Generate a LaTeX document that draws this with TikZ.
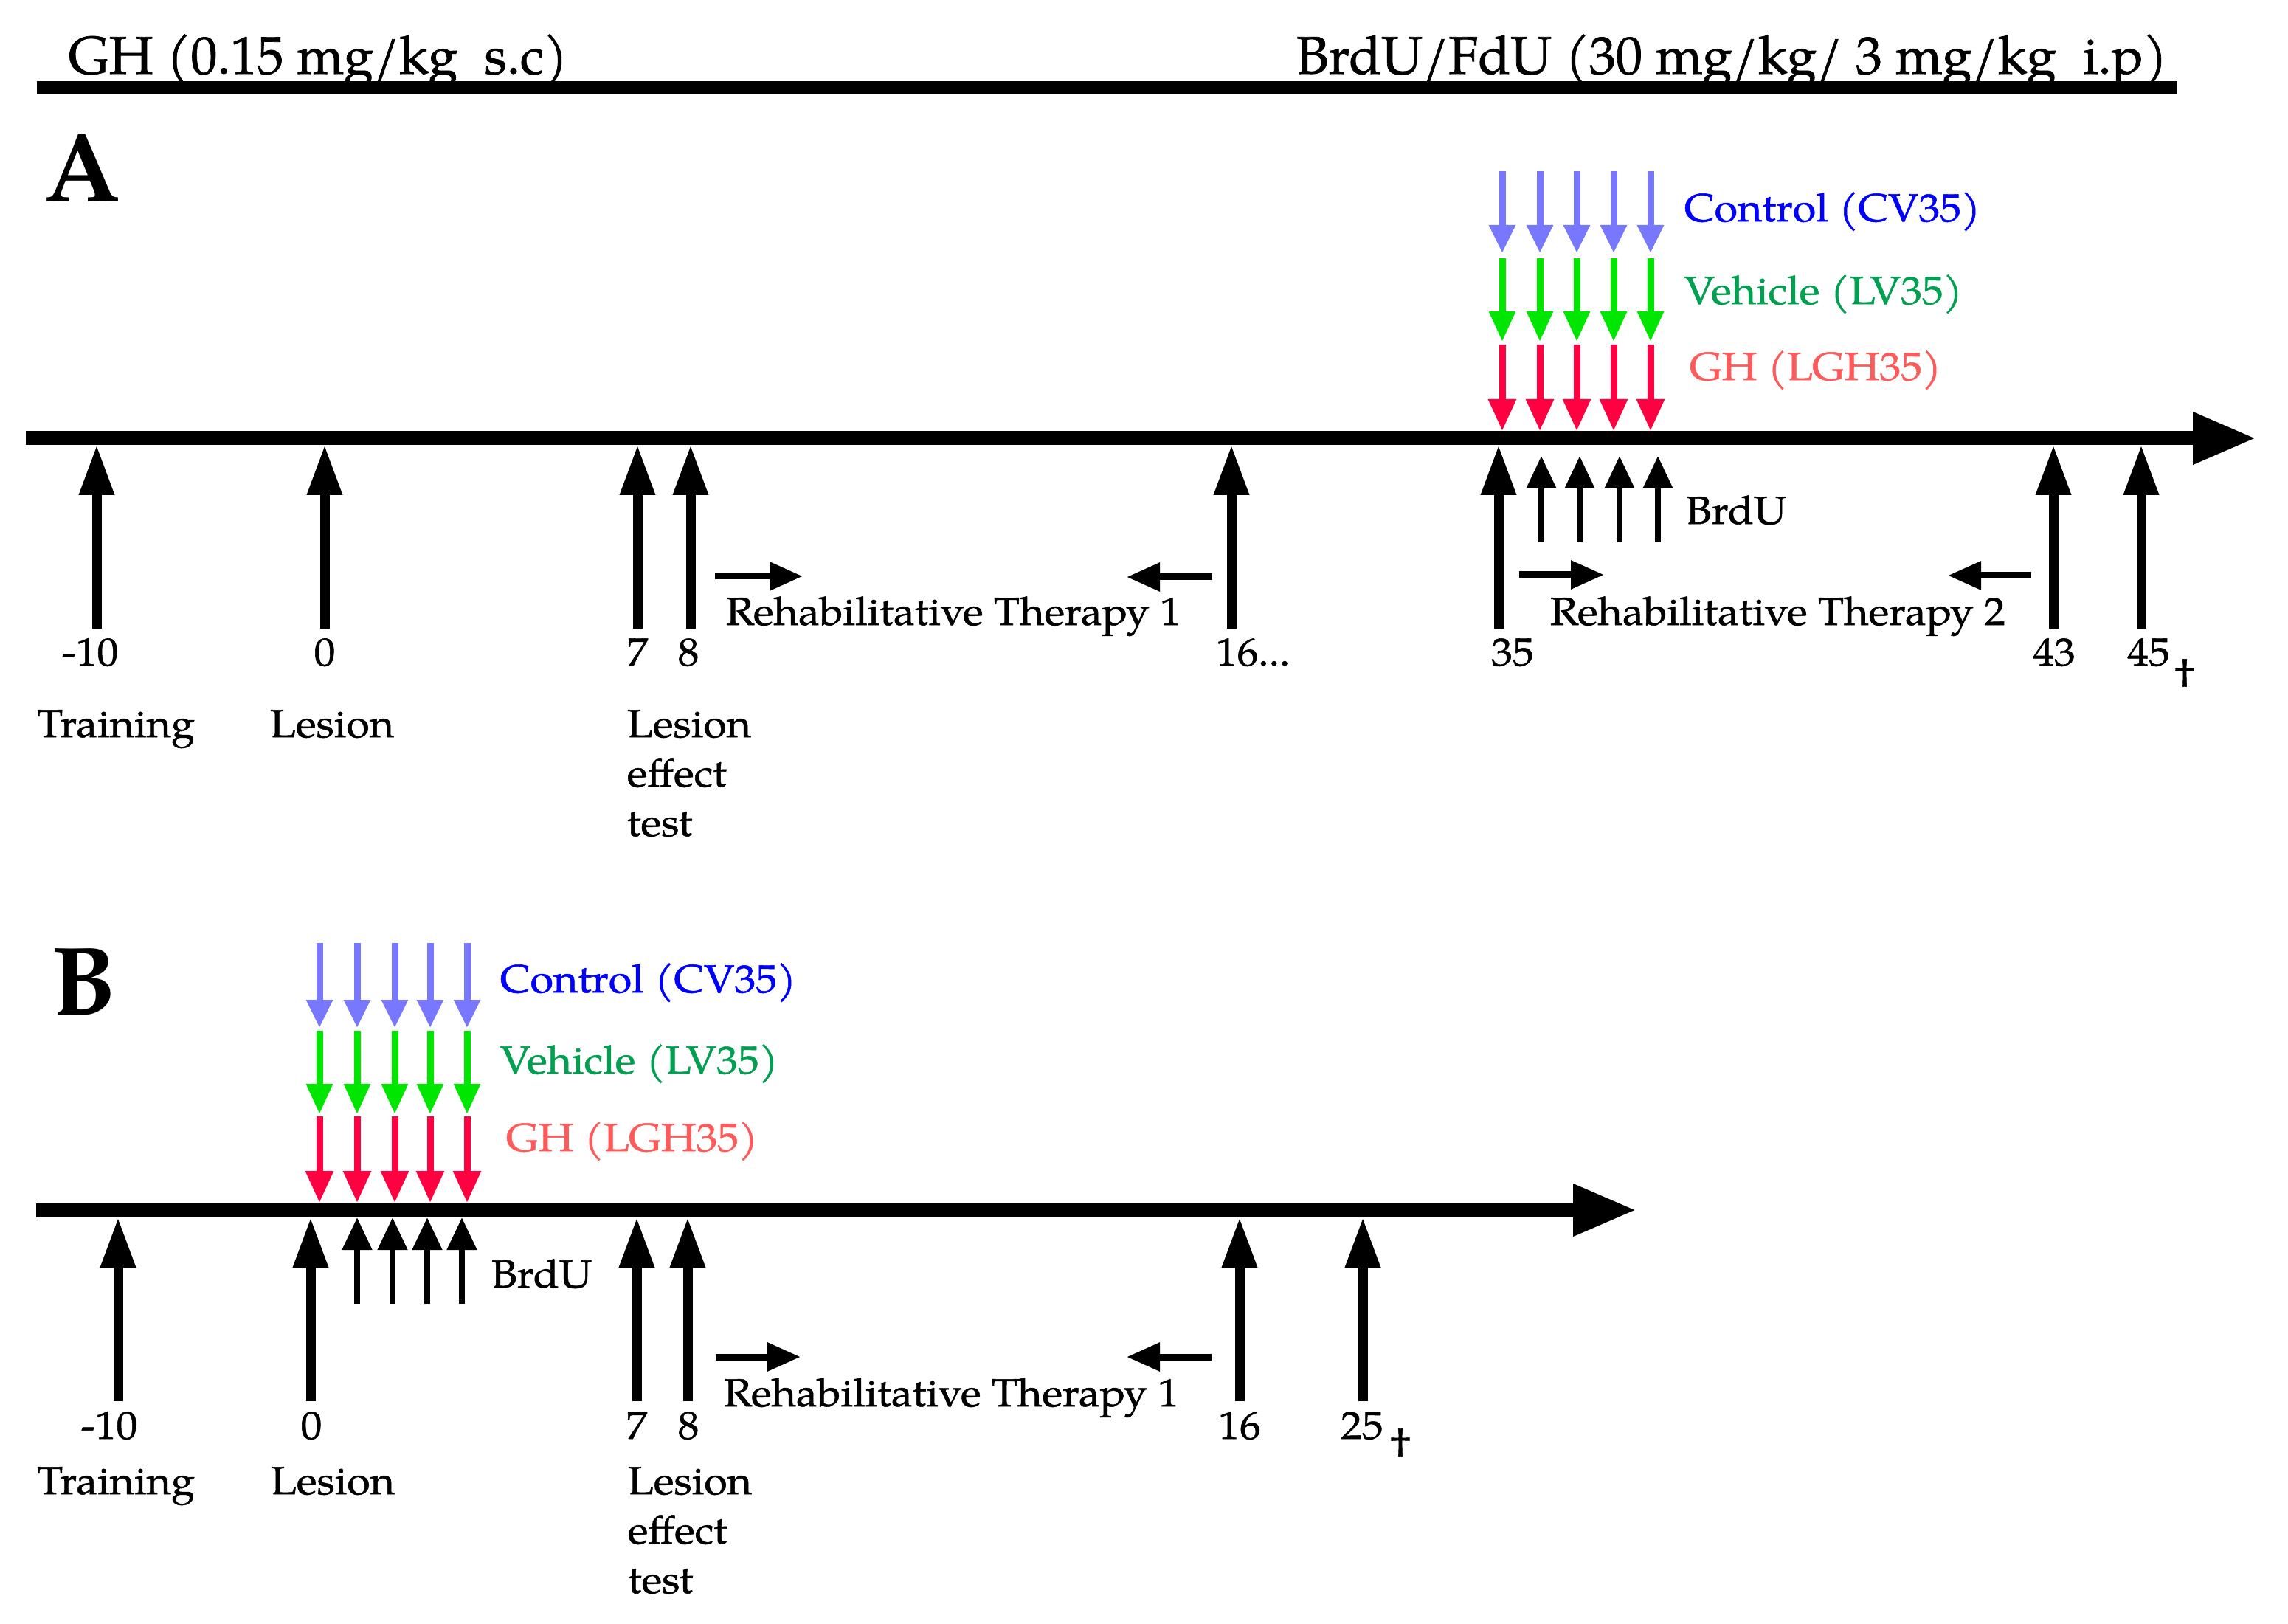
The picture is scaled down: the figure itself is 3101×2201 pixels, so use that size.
\documentclass[tikz,border=0pt]{standalone}
\usepackage{fontspec}
\setmainfont{texgyrepagella}[Extension=.otf, UprightFont=*-regular, BoldFont=*-bold, ItalicFont=*-italic, BoldItalicFont=*-bolditalic, FakeStretch=1.08, FakeBold=1]
\newfontfamily\topfont{texgyrepagella}[Extension=.otf, UprightFont=*-regular, BoldFont=*-bold, ItalicFont=*-italic, BoldItalicFont=*-bolditalic, FakeBold=1]
\newfontfamily\panelfont{texgyrepagella}[Extension=.otf, UprightFont=*-bold]
\usetikzlibrary{arrows.meta}
\definecolor{dblue}{RGB}{120,120,255}
\definecolor{tblue}{RGB}{0,0,255}
\definecolor{dgreen}{RGB}{0,230,0}
\definecolor{tgreen}{RGB}{0,160,80}
\definecolor{dred}{RGB}{255,0,64}
\definecolor{tred}{RGB}{255,90,90}
\tikzset{
  rulebar/.style={line width=4.5pt},
  timeline/.style={line width=4.75pt,-{Triangle[length=21.5pt,width=16.5pt]}},
  bigup/.style={line width=3.25pt,-{Triangle[length=17pt,width=11.25pt]}},
  smallup/.style={line width=2pt,-{Triangle[length=11pt,width=9.75pt]}},
  sidearrow/.style={line width=2.25pt,-{Triangle[length=11.25pt,width=9.25pt]}},
  doseblue/.style={dblue,line width=2.25pt,-{Triangle[length=9.5pt,width=8.5pt]}},
  dosegreen/.style={dgreen,line width=2.25pt,-{Triangle[length=10.25pt,width=8.5pt]}},
  dosered/.style={dred,line width=2.25pt,-{Triangle[length=10.75pt,width=9pt]}},
  lbl/.style={inner sep=0pt,font=\fontsize{13.3}{16.75}\selectfont},
  toptxt/.style={inner sep=0pt,font=\topfont\fontsize{18}{22}\selectfont,anchor=base west},
  panel/.style={inner sep=0pt,font=\panelfont\fontsize{33}{40}\selectfont,anchor=base west},
}
\begin{document}
\begin{tikzpicture}[x=0.25pt,y=-0.25pt]
\useasboundingbox[fill=white] (0,0) rectangle (3101,2201);

% ---- header ----
\node[toptxt] (hGH) at (92,100) {GH (0.15 mg/kg\ \ s.c)};
\node[toptxt] (hBrdU) at (1756,100) {BrdU/FdU (30 mg/kg/ 3 mg/kg\ \ i.p)};
\coordinate (ruleL) at (50,119);
\coordinate (ruleR) at (2951,119);
\draw[rulebar] (ruleL) -- (ruleR);

% ================= PANEL A =================
\node[panel] (pA) at (60,273) {A};
\coordinate (Astart) at (35,594);
\coordinate (Aend) at (3058,594);
\draw[timeline] (Astart) -- (Aend);

% big up arrows
\foreach \x [count=\i] in {131,440,864,936,1669,2031,2783,2902}{
  \coordinate (Aupt\i) at (\x,603);
  \coordinate (Aupb\i) at (\x,852);
  \draw[bigup] (Aupb\i) -- (Aupt\i);
}
% BrdU small arrows
\foreach \x [count=\i] in {2089,2141,2195,2247}{
  \coordinate (Asmt\i) at (\x,618);
  \coordinate (Asmb\i) at (\x,735);
  \draw[smallup] (Asmb\i) -- (Asmt\i);
}
\node[lbl,anchor=base west] (ABrdU) at (2284,710) {BrdU};

% dose arrows
\foreach \x [count=\i] in {2036,2087,2137,2187,2237}{
  \coordinate (Ab0\i) at (\x,232);
  \coordinate (Ab1\i) at (\x,343);
  \coordinate (Ag0\i) at (\x,350);
  \coordinate (Ag1\i) at (\x,463);
  \coordinate (Ar0\i) at (\x,467);
  \coordinate (Ar1\i) at (\x,584);
  \draw[doseblue] (Ab0\i) -- (Ab1\i);
  \draw[dosegreen] (Ag0\i) -- (Ag1\i);
  \draw[dosered] (Ar0\i) -- (Ar1\i);
}
\node[lbl,anchor=base west,text=tblue] (ACtrl) at (2282,300) {Control (CV35)};
\node[lbl,anchor=base west,text=tgreen] (AVeh) at (2282,412) {Vehicle (LV35)};
\node[lbl,anchor=base west,text=tred] (AGH) at (2289,515) {GH (LGH35)};

% day labels
\node[lbl,anchor=base] (An1) at (122,902) {-10};
\node[lbl,anchor=base] (An2) at (440,902) {0};
\node[lbl,anchor=base] (An3) at (864,902) {7};
\node[lbl,anchor=base] (An4) at (933,902) {8};
\node[lbl,anchor=base west] (An5) at (1647,902) {16...};
\node[lbl,anchor=base] (An6) at (2050,902) {35};
\node[lbl,anchor=base] (An7) at (2784,902) {43};
\node[lbl,anchor=base] (An8) at (2912,902) {45};
\node[lbl] (Adag) at (2961,912) {\dag};

% event labels
\node[lbl,anchor=base] (ATrain) at (157,999) {Training};
\node[lbl,anchor=base] (ALes) at (450,999) {Lesion};
\node[lbl,anchor=base west] (ALet) at (849,999) {\begin{tabular}[t]{@{}l@{}}Lesion\\effect\\test\end{tabular}};

% therapy 1
\node[lbl,anchor=base west] (ART1) at (983,847) {Rehabilitative Therapy 1};
\coordinate (AR1a) at (969,781);
\coordinate (AR1b) at (1088,781);
\coordinate (AR1c) at (1643,782);
\coordinate (AR1d) at (1527,782);
\draw[sidearrow] (AR1a) -- (AR1b);
\draw[sidearrow] (AR1c) -- (AR1d);
% therapy 2
\node[lbl,anchor=base west] (ART2) at (2100,847) {Rehabilitative Therapy 2};
\coordinate (AR2a) at (2059,779);
\coordinate (AR2b) at (2174,779);
\coordinate (AR2c) at (2753,780);
\coordinate (AR2d) at (2640,780);
\draw[sidearrow] (AR2a) -- (AR2b);
\draw[sidearrow] (AR2c) -- (AR2d);

% ================= PANEL B =================
\node[panel] (pB) at (69,1375) {B};
\coordinate (Bstart) at (49,1640);
\coordinate (Bend) at (2218,1640);
\draw[timeline] (Bstart) -- (Bend);

\foreach \x [count=\i] in {160,421,863,932,1680,1847}{
  \coordinate (Bupt\i) at (\x,1650);
  \coordinate (Bupb\i) at (\x,1899);
  \draw[bigup] (Bupb\i) -- (Bupt\i);
}
\foreach \x [count=\i] in {484,532,579,626}{
  \coordinate (Bsmt\i) at (\x,1650);
  \coordinate (Bsmb\i) at (\x,1767);
  \draw[smallup] (Bsmb\i) -- (Bsmt\i);
}
\node[lbl,anchor=base west] (BBrdU) at (665,1745) {BrdU};

\foreach \x [count=\i] in {433,484,535,583,633}{
  \coordinate (Bb0\i) at (\x,1278);
  \coordinate (Bb1\i) at (\x,1393);
  \coordinate (Bg0\i) at (\x,1397);
  \coordinate (Bg1\i) at (\x,1510);
  \coordinate (Br0\i) at (\x,1513);
  \coordinate (Br1\i) at (\x,1630);
  \draw[doseblue] (Bb0\i) -- (Bb1\i);
  \draw[dosegreen] (Bg0\i) -- (Bg1\i);
  \draw[dosered] (Br0\i) -- (Br1\i);
}
\node[lbl,anchor=base west,text=tblue] (BCtrl) at (677,1345) {Control (CV35)};
\node[lbl,anchor=base west,text=tgreen] (BVeh) at (677,1455) {Vehicle (LV35)};
\node[lbl,anchor=base west,text=tred] (BGH) at (685,1560) {GH (LGH35)};

\node[lbl,anchor=base] (Bn1) at (148,1950) {-10};
\node[lbl,anchor=base] (Bn2) at (422,1950) {0};
\node[lbl,anchor=base] (Bn3) at (863,1950) {7};
\node[lbl,anchor=base] (Bn4) at (933,1950) {8};
\node[lbl,anchor=base] (Bn5) at (1680,1950) {16};
\node[lbl,anchor=base] (Bn6) at (1846,1950) {25};
\node[lbl] (Bdag) at (1898,1955) {\dag};

\node[lbl,anchor=base] (BTrain) at (157,2025) {Training};
\node[lbl,anchor=base] (BLes) at (451,2025) {Lesion};
\node[lbl,anchor=base west] (BLet) at (850,2025) {\begin{tabular}[t]{@{}l@{}}Lesion\\effect\\test\end{tabular}};

\node[lbl,anchor=base west] (BRT1) at (980,1906) {Rehabilitative Therapy 1};
\coordinate (BR1a) at (970,1839);
\coordinate (BR1b) at (1085,1839);
\coordinate (BR1c) at (1642,1839);
\coordinate (BR1d) at (1527,1839);
\draw[sidearrow] (BR1a) -- (BR1b);
\draw[sidearrow] (BR1c) -- (BR1d);
\end{tikzpicture}
\end{document}
